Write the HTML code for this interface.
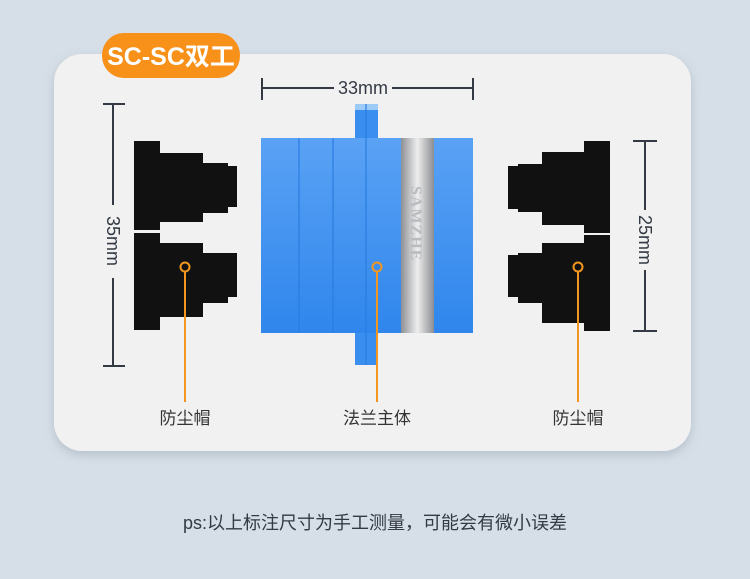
<!DOCTYPE html>
<html><head><meta charset="utf-8"><style>
html,body{margin:0;padding:0;width:750px;height:579px;overflow:hidden;background:#d6dee7;}
</style></head><body>
<svg width="750" height="579" viewBox="0 0 750 579" xmlns="http://www.w3.org/2000/svg" font-family="Liberation Sans, Noto Sans CJK SC, sans-serif">
<defs>
<linearGradient id="bl" x1="0" y1="0" x2="0" y2="1"><stop offset="0" stop-color="#5aa2f5"/><stop offset="1" stop-color="#2f86ec"/></linearGradient>
<linearGradient id="sv" x1="0" y1="0" x2="1" y2="0"><stop offset="0" stop-color="#8d9095"/><stop offset="0.5" stop-color="#eeeeee"/><stop offset="1" stop-color="#8a8d92"/></linearGradient>
<filter id="sh" x="-10%" y="-10%" width="120%" height="130%"><feDropShadow dx="0" dy="4" stdDeviation="5" flood-color="#7d8a99" flood-opacity="0.35"/></filter>
</defs>
<rect width="750" height="579" fill="#d6dee7"/>
<rect x="54" y="54" width="637" height="397" rx="28" fill="#f1f1f1" filter="url(#sh)"/>
<rect x="102" y="33" width="138" height="45" rx="22" fill="#f7911a"/>
<text x="171" y="65" font-size="25" font-weight="bold" fill="#fff" text-anchor="middle">SC-SC双工</text>

<g stroke="#333a44" stroke-width="2">
<line x1="262" y1="78" x2="262" y2="100"/><line x1="473" y1="78" x2="473" y2="100"/>
<line x1="262" y1="88" x2="334" y2="88"/><line x1="392" y1="88" x2="473" y2="88"/>
<line x1="103" y1="104" x2="125" y2="104"/><line x1="103" y1="366" x2="125" y2="366"/>
<line x1="113" y1="104" x2="113" y2="205"/><line x1="113" y1="278" x2="113" y2="366"/>
<line x1="633" y1="141" x2="657" y2="141"/><line x1="633" y1="331" x2="657" y2="331"/>
<line x1="645" y1="141" x2="645" y2="210"/><line x1="645" y1="270" x2="645" y2="331"/>
</g>
<text x="363" y="94" font-size="18" fill="#333a44" text-anchor="middle">33mm</text>
<text transform="translate(107,241) rotate(90)" font-size="18" fill="#333a44" text-anchor="middle">35mm</text>
<text transform="translate(639,240) rotate(90)" font-size="18" fill="#333a44" text-anchor="middle">25mm</text>

<rect x="355" y="104" width="23" height="261" fill="#3a8ef0"/>
<rect x="355" y="104" width="23" height="6" fill="#9ccbf8"/>
<rect x="261" y="138" width="212" height="195" fill="url(#bl)"/>
<g stroke="#2a7de0" stroke-width="1.2">
<line x1="299" y1="138" x2="299" y2="333"/><line x1="333" y1="138" x2="333" y2="333"/><line x1="366" y1="104" x2="366" y2="365"/>
</g>
<rect x="401" y="138" width="33" height="195" fill="url(#sv)"/>
<text transform="translate(411,186) rotate(90)" font-size="16" font-weight="bold" fill="#b9bbbf" font-family="Liberation Serif, serif" letter-spacing="1">SAMZHE</text>

<g fill="#111">
<rect x="134" y="141" width="26" height="89"/><rect x="134" y="233" width="26" height="97"/>
<rect x="158" y="153" width="45" height="69"/><rect x="190" y="163" width="38" height="50"/><rect x="226" y="166" width="11" height="41"/>
<rect x="158" y="243" width="45" height="74"/><rect x="190" y="253" width="38" height="50"/><rect x="226" y="253" width="11" height="44"/>
</g>
<g fill="#111">
<rect x="584" y="141" width="26" height="92"/><rect x="584" y="235" width="26" height="96"/>
<rect x="542" y="152" width="45" height="73"/><rect x="518" y="164" width="38" height="48"/><rect x="508" y="166" width="11" height="43"/>
<rect x="542" y="243" width="45" height="80"/><rect x="518" y="253" width="38" height="50"/><rect x="508" y="255" width="11" height="42"/>
</g>

<g stroke="#f3961f" stroke-width="2" fill="none">
<line x1="185" y1="272" x2="185" y2="402"/><circle cx="185" cy="267" r="4.5"/>
<line x1="377" y1="272" x2="377" y2="402"/><circle cx="377" cy="267" r="4.5"/>
<line x1="578" y1="272" x2="578" y2="402"/><circle cx="578" cy="267" r="4.5"/>
</g>
<g font-size="17" fill="#333" text-anchor="middle">
<text x="185" y="424">防尘帽</text><text x="377" y="424">法兰主体</text><text x="578" y="424">防尘帽</text>
</g>
<text x="375" y="529" font-size="18" fill="#333a44" text-anchor="middle">ps:以上标注尺寸为手工测量，可能会有微小误差</text>
</svg>
</body></html>
